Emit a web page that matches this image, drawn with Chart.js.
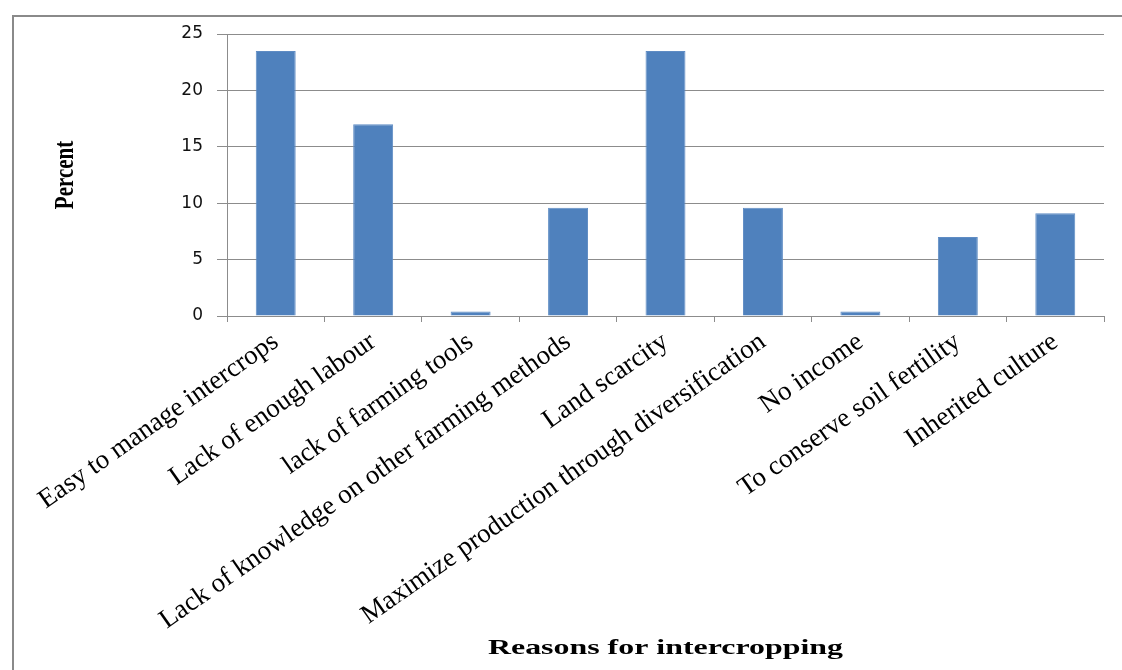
<!DOCTYPE html>
<html>
<head>
<meta charset="utf-8">
<script src="https://cdn.jsdelivr.net/npm/chart.js@4.4.1/dist/chart.umd.min.js"></script>
<style>
  html, body { margin: 0; padding: 0; background: #fff; overflow: hidden; }
  #wrap { width: 1122px; height: 670px; position: relative; }
</style>
</head>
<body>
<div id="wrap"><canvas id="c"></canvas></div>
<script>
// Reasons given for intercropping and share of respondents (%)
const categories = [
  'Easy to manage intercrops',
  'Lack of enough labour',
  'lack of farming tools',
  'Lack of knowledge on other farming methods',
  'Land scarcity',
  'Maximize production through diversification',
  'No income',
  'To conserve soil fertility',
  'Inherited culture'
];
const percents = [23.5, 17.0, 0.4, 9.6, 23.5, 9.6, 0.4, 7.0, 9.1];
const yTicks = [0, 5, 10, 15, 20, 25];
const xTitle = 'Reasons for intercropping';
const yTitle = 'Percent';

const axisGrey = '#8c8c8c';

// Outer frame plus the two wide-set axis titles
const framePlugin = {
  id: 'frameAndTitles',
  beforeDraw(chart) {
    const ctx = chart.ctx;
    ctx.save();
    ctx.fillStyle = '#fff';
    ctx.fillRect(0, 0, chart.width, chart.height);
    ctx.strokeStyle = '#8a8a8a';
    ctx.lineWidth = 2;
    ctx.strokeRect(13, 16, chart.width + 40, chart.height + 40);
    ctx.restore();
  },
  afterDraw(chart) {
    const ctx = chart.ctx;
    const a = chart.chartArea;
    ctx.save();
    ctx.fillStyle = '#000';
    ctx.textAlign = 'center';
    ctx.textBaseline = 'middle';
    ctx.font = 'bold 22px "Liberation Serif", "Times New Roman", serif';
    // x-axis title, stretched horizontally
    ctx.save();
    ctx.translate((a.left + a.right) / 2, 648);
    ctx.scale(1.45, 1);
    ctx.fillText(xTitle, 0, 0);
    ctx.restore();
    // y-axis title, rotated and thickened across
    ctx.save();
    ctx.font = 'bold 21px "Liberation Serif", "Times New Roman", serif';
    ctx.translate(66, (a.top + a.bottom) / 2);
    ctx.rotate(-Math.PI / 2);
    ctx.scale(1, 1.35);
    ctx.fillText(yTitle, 0, 0);
    ctx.restore();
    ctx.restore();
  }
};

new Chart(document.getElementById('c'), {
  type: 'bar',
  data: {
    labels: categories,
    datasets: [{
      label: 'Percent',
      data: percents,
      backgroundColor: '#4F81BD',
      borderColor: '#5f8cc4',
      borderWidth: 1,
      categoryPercentage: 1.0,
      barPercentage: 0.41
    }]
  },
  options: {
    responsive: true,
    maintainAspectRatio: false,
    animation: false,
    layout: { padding: { top: 34, right: 18, left: 0, bottom: 0 } },
    plugins: {
      legend: { display: false },
      tooltip: { enabled: false }
    },
    scales: {
      x: {
        grid: {
          offset: true,
          drawOnChartArea: false,
          drawTicks: true,
          tickLength: 6,
          color: axisGrey,
          lineWidth: 1
        },
        border: { color: axisGrey, width: 1 },
        ticks: {
          autoSkip: false,
          minRotation: 35,
          maxRotation: 35,
          padding: 4,
          color: '#000',
          font: { family: '"Liberation Serif", "Times New Roman", serif', size: 27 }
        },
        afterFit(scale) { scale.height = 670 - 316; }
      },
      y: {
        min: 0,
        max: 25,
        afterBuildTicks(scale) { scale.ticks = yTicks.map(v => ({ value: v })); },
        grid: {
          color: axisGrey,
          lineWidth: 1,
          tickLength: 10
        },
        border: { color: axisGrey, width: 1 },
        ticks: {
          padding: 14,
          color: '#111',
          font: { family: '"DejaVu Sans", Verdana, sans-serif', size: 17 }
        },
        afterFit(scale) { scale.width = 227; }
      }
    }
  },
  plugins: [framePlugin]
});
</script>
</body>
</html>
